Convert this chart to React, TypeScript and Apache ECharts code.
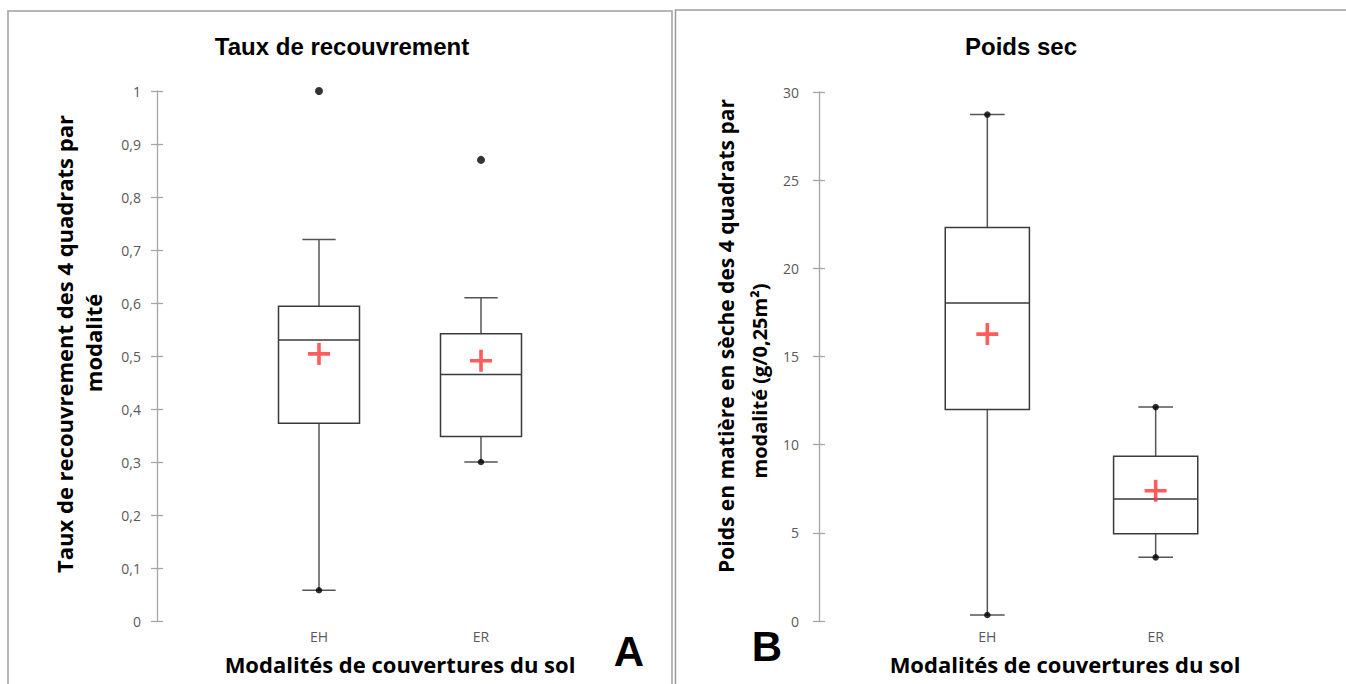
import React, { useEffect, useRef } from "react";
import * as echarts from "echarts";

// ---------- data ----------
const categories = ["EH", "ER"];
const axisCategories = ["", "EH", "ER", " "];

// Panel A : Taux de recouvrement
const coverMin = [0.058, 0.3];
const coverQ1 = [0.373, 0.348];
const coverMedian = [0.53, 0.465];
const coverQ3 = [0.594, 0.542];
const coverMax = [0.72, 0.61];
const coverMean = [0.504, 0.491];
const coverMinDot = [true, true];
const coverMaxDot = [false, false];
const coverOutlierCat = ["EH", "ER"];
const coverOutlierVal = [1.0, 0.87];

// Panel B : Poids sec
const weightMin = [0.34, 3.61];
const weightQ1 = [12.0, 4.95];
const weightMedian = [18.04, 6.92];
const weightQ3 = [22.32, 9.35];
const weightMax = [28.72, 12.13];
const weightMean = [16.27, 7.39];
const weightMinDot = [true, true];
const weightMaxDot = [true, true];

const FONT = '"Open Sans", Lato, sans-serif';
const TITLE_FONT = '"Liberation Sans", Arial, sans-serif';
const BOX_COLOR = "#3a3a3a";
const WHISK_COLOR = "#555555";
const AXIS_COLOR = "#a6a6a6";
const LABEL_COLOR = "#595959";
const MEAN_COLOR = "#ff3333";
const CROSS = "path://M0,9.2H22V12.8H0Z M9.2,0H12.8V22H9.2Z";

function boxData(mn: number[], q1: number[], med: number[], q3: number[], mx: number[]) {
  return categories.map((c, i) => [axisCategories.indexOf(c), mn[i], q1[i], med[i], q3[i], mx[i]]);
}

function endDots(mn: number[], mx: number[], mnDot: boolean[], mxDot: boolean[]) {
  const out: any[] = [];
  categories.forEach((c, i) => {
    const x = axisCategories.indexOf(c);
    if (mnDot[i]) out.push([x, mn[i]]);
    if (mxDot[i]) out.push([x, mx[i]]);
  });
  return out;
}

function renderBox(params: any, api: any) {
  const x = api.value(0);
  const pMin = api.coord([x, api.value(1)]);
  const pQ1 = api.coord([x, api.value(2)]);
  const pMed = api.coord([x, api.value(3)]);
  const pQ3 = api.coord([x, api.value(4)]);
  const pMax = api.coord([x, api.value(5)]);
  const band = api.size([1, 0])[0];
  const hw = band * 0.25;
  const cw = band * 0.103;
  const cx = pMed[0];
  const lineStyle = { stroke: WHISK_COLOR, lineWidth: 1.5 };
  return {
    type: "group",
    children: [
      { type: "line", shape: { x1: cx, y1: pQ3[1], x2: cx, y2: pMax[1] }, style: lineStyle },
      { type: "line", shape: { x1: cx - cw, y1: pMax[1], x2: cx + cw, y2: pMax[1] }, style: lineStyle },
      { type: "line", shape: { x1: cx, y1: pQ1[1], x2: cx, y2: pMin[1] }, style: lineStyle },
      { type: "line", shape: { x1: cx - cw, y1: pMin[1], x2: cx + cw, y2: pMin[1] }, style: lineStyle },
      {
        type: "rect",
        shape: { x: cx - hw, y: pQ3[1], width: hw * 2, height: pQ1[1] - pQ3[1] },
        style: { fill: "#ffffff", stroke: BOX_COLOR, lineWidth: 1.5 },
      },
      { type: "line", shape: { x1: cx - hw, y1: pMed[1], x2: cx + hw, y2: pMed[1] }, style: { stroke: BOX_COLOR, lineWidth: 1.5 } },
    ],
  };
}

function yAxes(gridIndex: number, max: number, interval: number, margin: number, fmt: (v: number) => string) {
  return [
    {
      type: "value",
      gridIndex,
      min: 0,
      max,
      interval,
      axisLine: { show: true, lineStyle: { color: AXIS_COLOR, width: 1.3 } },
      axisTick: { show: true, length: 6, lineStyle: { color: AXIS_COLOR, width: 1.3 } },
      axisLabel: { color: LABEL_COLOR, fontFamily: FONT, fontSize: 14, margin, formatter: fmt },
      splitLine: { show: false },
    },
    {
      type: "value",
      gridIndex,
      min: 0,
      max,
      interval,
      position: "left",
      axisLine: { show: false },
      axisTick: { show: true, inside: true, length: 6, lineStyle: { color: AXIS_COLOR, width: 1.3 } },
      axisLabel: { show: false },
      splitLine: { show: false },
    },
  ];
}

function xAxis(gridIndex: number) {
  return {
    type: "category",
    gridIndex,
    data: axisCategories,
    boundaryGap: false,
    axisLine: { show: false },
    axisTick: { show: false },
    axisLabel: { interval: 0, color: LABEL_COLOR, fontFamily: FONT, fontSize: 14, margin: 8 },
    splitLine: { show: false },
  };
}

export default function App() {
  const ref = useRef<HTMLDivElement>(null);
  useEffect(() => {
    if (!ref.current) return;
    const chart = echarts.init(ref.current, null, { renderer: "svg" });
    const commaFmt = (v: number) => String(Math.round(v * 10) / 10).replace(".", ",");
    const intFmt = (v: number) => String(v);
    const option: any = {
      animation: false,
      backgroundColor: "#ffffff",
      grid: [
        { left: 157, top: 91, width: 486, height: 530 },
        { left: 819, top: 92, width: 505, height: 529 },
      ],
      xAxis: [xAxis(0), xAxis(1)],
      yAxis: [...yAxes(0, 1, 0.1, 16, commaFmt), ...yAxes(1, 30, 5, 20, intFmt)],
      series: [
        {
          type: "custom",
          xAxisIndex: 0,
          yAxisIndex: 0,
          renderItem: renderBox,
          encode: { x: 0, y: [1, 2, 3, 4, 5] },
          data: boxData(coverMin, coverQ1, coverMedian, coverQ3, coverMax),
          z: 2,
        },
        {
          type: "scatter",
          xAxisIndex: 0,
          yAxisIndex: 0,
          symbol: "circle",
          symbolSize: 6.5,
          itemStyle: { color: "#000000" },
          data: endDots(coverMin, coverMax, coverMinDot, coverMaxDot),
          z: 3,
        },
        {
          type: "scatter",
          xAxisIndex: 0,
          yAxisIndex: 0,
          symbol: "circle",
          symbolSize: 8,
          itemStyle: { color: "#000000" },
          data: coverOutlierCat.map((c, i) => [axisCategories.indexOf(c), coverOutlierVal[i]]),
          z: 3,
        },
        {
          type: "scatter",
          xAxisIndex: 0,
          yAxisIndex: 0,
          symbol: CROSS,
          symbolSize: 22,
          itemStyle: { color: MEAN_COLOR },
          data: categories.map((c, i) => [axisCategories.indexOf(c), coverMean[i]]),
          z: 4,
        },
        {
          type: "custom",
          xAxisIndex: 1,
          yAxisIndex: 2,
          renderItem: renderBox,
          encode: { x: 0, y: [1, 2, 3, 4, 5] },
          data: boxData(weightMin, weightQ1, weightMedian, weightQ3, weightMax),
          z: 2,
        },
        {
          type: "scatter",
          xAxisIndex: 1,
          yAxisIndex: 2,
          symbol: "circle",
          symbolSize: 6.5,
          itemStyle: { color: "#000000" },
          data: endDots(weightMin, weightMax, weightMinDot, weightMaxDot),
          z: 3,
        },
        {
          type: "scatter",
          xAxisIndex: 1,
          yAxisIndex: 2,
          symbol: CROSS,
          symbolSize: 22,
          itemStyle: { color: MEAN_COLOR },
          data: categories.map((c, i) => [axisCategories.indexOf(c), weightMean[i]]),
          z: 4,
        },
      ],
      graphic: [
        { type: "rect", shape: { x: 8, y: 11, width: 664, height: 700 }, style: { fill: "none", stroke: "#a0a0a0", lineWidth: 1.5 }, z: -1 },
        { type: "rect", shape: { x: 675.5, y: 10, width: 700, height: 700 }, style: { fill: "none", stroke: "#9a9a9a", lineWidth: 1.5 }, z: -1 },
        {
          type: "text", x: 342, y: 46,
          style: { text: "Taux de recouvrement", font: `bold 24px ${TITLE_FONT}`, fill: "#000", textAlign: "center", textVerticalAlign: "middle" },
        },
        {
          type: "text", x: 1021, y: 46,
          style: { text: "Poids sec", font: `bold 24px ${TITLE_FONT}`, fill: "#000", textAlign: "center", textVerticalAlign: "middle" },
        },
        {
          type: "text", x: 64, y: 344, rotation: Math.PI / 2,
          style: { text: "Taux de recouvrement des 4 quadrats par", font: `bold 22px ${FONT}`, fill: "#000", textAlign: "center", textVerticalAlign: "middle" },
        },
        {
          type: "text", x: 93, y: 343, rotation: Math.PI / 2,
          style: { text: "modalité", font: `bold 22px ${FONT}`, fill: "#000", textAlign: "center", textVerticalAlign: "middle" },
        },
        {
          type: "text", x: 726, y: 336, rotation: Math.PI / 2,
          style: { text: "Poids en matière en sèche des 4 quadrats par", font: `bold 21px ${FONT}`, fill: "#000", textAlign: "center", textVerticalAlign: "middle" },
        },
        {
          type: "text", x: 759, y: 381, rotation: Math.PI / 2,
          style: { text: "modalité (g/0,25m²)", font: `bold 20px ${FONT}`, fill: "#000", textAlign: "center", textVerticalAlign: "middle" },
        },
        {
          type: "text", x: 400, y: 664,
          style: { text: "Modalités de couvertures du sol", font: `bold 22px ${FONT}`, fill: "#000", textAlign: "center", textVerticalAlign: "middle" },
        },
        {
          type: "text", x: 1065, y: 664,
          style: { text: "Modalités de couvertures du sol", font: `bold 22px ${FONT}`, fill: "#000", textAlign: "center", textVerticalAlign: "middle" },
        },
        {
          type: "text", x: 629, y: 651,
          style: { text: "A", font: `bold 42px ${TITLE_FONT}`, fill: "#000", textAlign: "center", textVerticalAlign: "middle" },
        },
        {
          type: "text", x: 767, y: 646,
          style: { text: "B", font: `bold 42px ${TITLE_FONT}`, fill: "#000", textAlign: "center", textVerticalAlign: "middle" },
        },
      ],
    };
    chart.setOption(option);
    return () => chart.dispose();
  }, []);
  return <div ref={ref} style={{ position: "absolute", left: 0, top: 0, width: 1346, height: 684 }} />;
}
